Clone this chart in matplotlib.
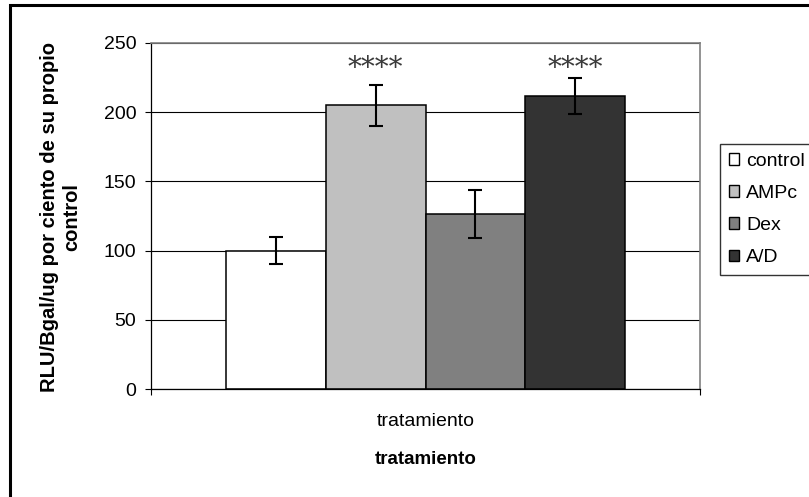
import matplotlib
matplotlib.use("Agg")
import numpy as np
import matplotlib.pyplot as plt
from matplotlib.patches import Patch, Rectangle

# RLU/Bgal/ug as percent of own control, one group of four treatments
series = ["control", "AMPc", "Dex", "A/D"]
values = [100, 205, 126.5, 211.5]
errors = [9.5, 15, 17.5, 13]
signif = ["", "****", "", "****"]
colors = ["#ffffff", "#c0c0c0", "#808080", "#333333"]
category = "tratamiento"
yticks = [0, 50, 100, 150, 200, 250]

plt.rcParams["font.family"] = ["Liberation Sans", "DejaVu Sans"]

W, H = 809, 497
fig = plt.figure(figsize=(W / 100, H / 100), dpi=100)
ax = fig.add_axes([151 / W, 1 - 389 / H, 549 / W, 346 / H])

# Excel-style layout: gap width 150% of a bar
n = len(series)
bw = 1 / (n + 1.5)
x0 = 0.75 * bw
for i, (v, e, c) in enumerate(zip(values, errors, colors)):
    xc = x0 + (i + 0.5) * bw
    ax.bar(xc, v, width=bw, color=c, edgecolor="black", linewidth=1.1, zorder=2)
    ax.errorbar(xc, v, yerr=e, fmt="none", ecolor="black", elinewidth=1.5,
                capsize=5, capthick=1.5, zorder=3)
    if signif[i]:
        ax.text(xc, 231.5, signif[i], ha="center", va="center",
                fontsize=20, color="#3a3a3a", family="DejaVu Serif")

ax.set_xlim(0, 1)
ax.set_ylim(0, 250)
ax.set_yticks(yticks)
ax.set_axisbelow(True)
ax.yaxis.grid(True, color="black", linewidth=0.8)

ax.set_xticks([0.5])
ax.set_xticklabels([category])
ax.set_xticks([0, 1], minor=True)
ax.tick_params(axis="x", which="major", length=0, pad=17, labelsize=14)
ax.tick_params(axis="x", which="minor", length=4, width=0.8)
ax.tick_params(axis="y", length=4.5, width=0.8, pad=6, labelsize=14)

for side in ("top", "right"):
    ax.spines[side].set_color("#808080")
    ax.spines[side].set_linewidth(1.2)
for side in ("left", "bottom"):
    ax.spines[side].set_linewidth(0.9)

fig.text(426 / W, 1 - 459 / H, category, ha="center", va="center",
         fontsize=13.5, fontweight="bold")
fig.text(61 / W, 1 - 217 / H, "RLU/Bgal/ug por ciento de su propio\ncontrol",
         rotation=90, ha="center", va="center", multialignment="center",
         fontsize=14.5, fontweight="bold")

handles = [Patch(facecolor=c, edgecolor="black", linewidth=1.0) for c in colors]
leg = fig.legend(handles, series, loc="upper left",
                 bbox_to_anchor=(720 / W, 1 - 144 / H), borderaxespad=0,
                 fontsize=14, frameon=True, fancybox=False,
                 handlelength=0.55, handleheight=0.55, handletextpad=0.35,
                 borderpad=0.45, labelspacing=0.78)
leg.get_frame().set_edgecolor("black")
leg.get_frame().set_linewidth(1.0)

# outer chart frame, running off the right and bottom edges
fig.patches.append(Rectangle((10 / W, -0.05), 1.2, 1.05 - 5 / H, fill=False,
                             edgecolor="black", linewidth=2.2,
                             transform=fig.transFigure, figure=fig))

fig.savefig("out.png", dpi=100)
